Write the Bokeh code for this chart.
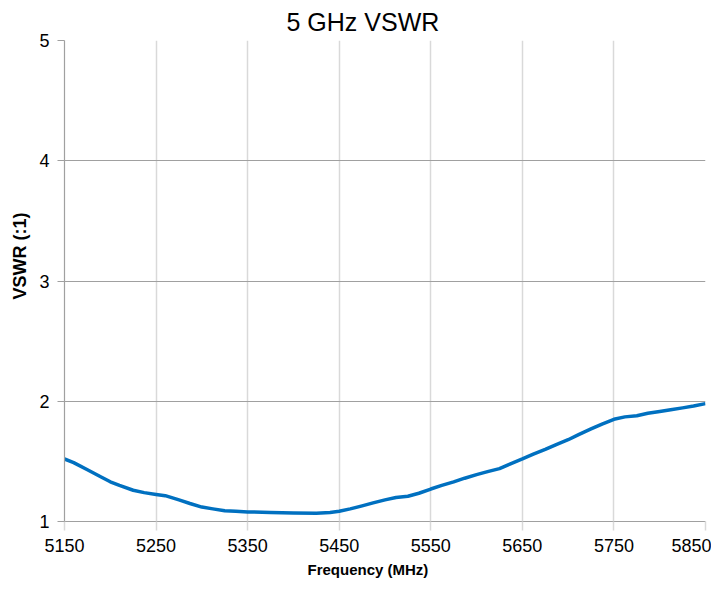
from bokeh.plotting import figure
from bokeh.models import Range1d, FixedTicker, Title
from bokeh.embed import file_html
from bokeh.resources import INLINE

freq_mhz = [5150, 5160, 5175, 5190, 5200, 5210, 5225, 5237, 5250, 5260, 5275, 5287,
            5300, 5312, 5325, 5337, 5350, 5375, 5400, 5425, 5440, 5450, 5462, 5475,
            5487, 5500, 5512, 5525, 5537, 5550, 5562, 5575, 5587, 5600, 5612, 5625,
            5637, 5650, 5662, 5675, 5687, 5700, 5712, 5725, 5737, 5750, 5762, 5775,
            5787, 5800, 5812, 5825, 5837, 5850]
vswr = [1.52, 1.49, 1.43, 1.37, 1.33, 1.30, 1.26, 1.24, 1.225, 1.215, 1.18, 1.15,
        1.12, 1.105, 1.09, 1.085, 1.08, 1.075, 1.07, 1.068, 1.075, 1.085, 1.105, 1.13,
        1.155, 1.18, 1.20, 1.21, 1.235, 1.27, 1.30, 1.33, 1.36, 1.39, 1.415, 1.44,
        1.48, 1.52, 1.56, 1.60, 1.64, 1.68, 1.725, 1.77, 1.81, 1.85, 1.87, 1.88,
        1.90, 1.915, 1.93, 1.945, 1.96, 1.98]
x_ticks = [5150, 5250, 5350, 5450, 5550, 5650, 5750, 5850]
y_ticks = [1, 2, 3, 4, 5]
chart_title = "5 GHz VSWR"
x_label = "Frequency (MHz)"
y_label = "VSWR (:1)"

p = figure(width=711, height=582, output_backend="svg", toolbar_location=None,
           x_range=Range1d(5150, 5850), y_range=Range1d(1, 5),
           min_border_left=56, min_border_right=6, min_border_top=32, min_border_bottom=56)
p.outline_line_color = None
p.background_fill_color = "white"

p.title.text = chart_title
p.title.align = "left"
p.title.offset = 222
p.title.standoff = 10
p.title.text_font = "Liberation Sans"
p.title.text_font_size = "25px"
p.title.text_font_style = "normal"
p.title.text_color = "#000000"

p.line(freq_mhz, vswr, line_color="#0070C0", line_width=3.5, line_join="round")

p.xaxis.ticker = FixedTicker(ticks=x_ticks)
p.yaxis.ticker = FixedTicker(ticks=y_ticks)
p.xaxis.minor_tick_line_color = None
p.yaxis.minor_tick_line_color = None

p.xgrid.grid_line_color = "#d9d9d9"
p.xgrid.grid_line_width = 1.5
p.ygrid.grid_line_color = "#a0a0a0"
p.ygrid.grid_line_width = 1.2

p.xaxis.axis_line_color = "#a0a0a0"
p.xaxis.axis_line_width = 1.2
p.xaxis.major_tick_line_color = "#d9d9d9"
p.xaxis.major_tick_line_width = 1.5
p.xaxis.major_tick_out = 9
p.xaxis.major_tick_in = 0
p.xaxis.major_label_standoff = 8
p.xaxis.major_label_text_font = "Liberation Sans"
p.xaxis.major_label_text_font_size = "18px"
p.xaxis.major_label_text_color = "#000000"

p.yaxis.axis_line_color = "#a0a0a0"
p.yaxis.axis_line_width = 1.2
p.yaxis.major_tick_line_color = "#a0a0a0"
p.yaxis.major_tick_line_width = 1.2
p.yaxis.major_tick_out = 7
p.yaxis.major_tick_in = 0
p.yaxis.major_label_standoff = 8
p.yaxis.major_label_text_font = "Liberation Sans"
p.yaxis.major_label_text_font_size = "18px"
p.yaxis.major_label_text_color = "#000000"

xt = Title(text=x_label, align="left", offset=243, standoff=9,
           text_font="Liberation Sans", text_font_size="15px",
           text_font_style="bold", text_color="#000000")
p.add_layout(xt, "below")

yt = Title(text=y_label, align="left", offset=222, standoff=14,
           text_font="Liberation Sans", text_font_size="18px",
           text_font_style="bold", text_color="#000000")
p.add_layout(yt, "left")

open("out.html", "w").write(file_html(p, INLINE))
